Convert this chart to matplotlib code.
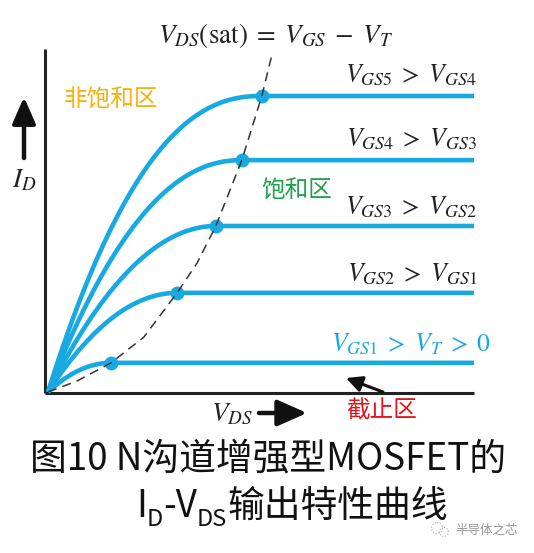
import numpy as np
import matplotlib
matplotlib.use("Agg")
import matplotlib.pyplot as plt
from matplotlib.patches import Circle

plt.rcParams['mathtext.fontset'] = 'stix'
plt.rcParams['font.family'] = ['Noto Sans CJK SC', 'DejaVu Sans']

# knee points of the five output curves (VDS(sat), ID(sat)), arbitrary units
vds_sat = [1.48, 3.03, 3.94, 4.55, 5.02]
id_sat = [0.85, 2.89, 4.84, 6.76, 8.63]
shape = [2.0, 2.0, 2.0, 2.15, 2.3]   # bend of the linear-region part
vds_max = 10.0
curve_labels = [r'$V_{GS1}\;>\;V_T\;>\;0$', r'$V_{GS2}\;>\;V_{GS1}$', r'$V_{GS3}\;>\;V_{GS2}$',
                r'$V_{GS4}\;>\;V_{GS3}$', r'$V_{GS5}\;>\;V_{GS4}$']

# VDS(sat) = VGS - VT boundary (dashed)
sat_x = [0.0, 0.68, 1.48, 2.25, 3.03, 3.50, 3.94, 4.55, 5.02, 5.26]
sat_y = [0.0, 0.32, 0.85, 1.60, 2.89, 3.76, 4.84, 6.76, 8.63, 9.85]

W, H = 534, 553
blue = '#19A9E2'

fig = plt.figure(figsize=(W / 100, H / 100), dpi=100)
fig.patch.set_facecolor('white')

ax = fig.add_axes([48 / W, (H - 392) / H, 426 / W, 343 / H])
ax.set_xlim(0, 10)
ax.set_ylim(0, 10)
ax.axis('off')

# axes lines
ax.plot([-0.07, -0.07], [-0.03, 10.0], color='#222222', lw=2.2, clip_on=False, solid_capstyle='butt')
ax.plot([-0.07, 10.0], [-0.03, -0.03], color='#222222', lw=2.2, clip_on=False, solid_capstyle='butt')

for vs, isat, p in zip(vds_sat, id_sat, shape):
    v = np.linspace(0, vs, 80)
    i = isat * (1 - (1 - v / vs) ** p)
    ax.plot(np.append(v, vds_max), np.append(i, isat), color=blue, lw=3.3,
            solid_capstyle='butt', clip_on=False, zorder=3)
    ax.plot([vs], [isat], 'o', color=blue, ms=9, zorder=4, clip_on=False)

ax.plot(sat_x, sat_y, color='#333333', lw=1.1, dashes=(6, 4), zorder=5, clip_on=False)

# overlay in pixel coordinates for annotations
ov = fig.add_axes([0, 0, 1, 1])
ov.set_xlim(0, W)
ov.set_ylim(H, 0)
ov.axis('off')
ov.patch.set_alpha(0)

ov.text(276, 36, r'$V_{DS}(\mathrm{sat})\;=\;V_{GS}\;-\;V_T$', fontsize=19.5, color='#222222',
        ha='center', va='center')

label_bottom = [357, 287, 220, 152, 88]
label_right = [491, 477, 477, 477, 477]
label_color = [blue, '#222222', '#222222', '#222222', '#222222']
for s, yb, xr, c in zip(curve_labels, label_bottom, label_right, label_color):
    ov.text(xr, yb, s, fontsize=18.5, color=c, ha='right', va='bottom')

ov.text(111, 100, '非饱和区', fontsize=17, color='#F5B10C', ha='center', va='center')
ov.text(297, 191, '饱和区', fontsize=17, color='#1DA24C', ha='center', va='center')
ov.text(382, 411, '截止区', fontsize=17, color='#E5121A', ha='center', va='center')

# I_D with up arrow
ov.text(24, 180, r'$I_D$', fontsize=19.5, color='#222222', ha='center', va='center')
ov.annotate('', xy=(24, 97), xytext=(24, 158),
            arrowprops=dict(arrowstyle='-|>,head_length=0.8,head_width=0.35', lw=3.2,
                            color='#111111', mutation_scale=20, shrinkA=0, shrinkB=0))
# V_DS with right arrow
ov.text(232, 414, r'$V_{DS}$', fontsize=19.5, color='#222222', ha='center', va='center')
ov.annotate('', xy=(307, 413), xytext=(259, 413),
            arrowprops=dict(arrowstyle='-|>,head_length=0.9,head_width=0.4', lw=3.2,
                            color='#111111', mutation_scale=20, shrinkA=0, shrinkB=0))
# cut-off arrow
ov.annotate('', xy=(346, 378), xytext=(383, 392),
            arrowprops=dict(arrowstyle='-|>,head_length=0.6,head_width=0.3', lw=2.2,
                            color='#111111', mutation_scale=16, shrinkA=0, shrinkB=0))

# caption
ov.text(268, 459, '图10 N沟道增强型MOSFET的', fontsize=26.5, color='#111111',
        ha='center', va='center', family=['Noto Sans CJK SC'])

r = fig.canvas.get_renderer()
x = 136
base = 517
pieces = [('I', 26.5, 0), ('D', 17, 9), ('-V', 26.5, 0), ('DS', 17, 9), ('输出特性曲线', 26.5, 0)]
for s, size, dy in pieces:
    t = ov.text(x, base + dy, s, fontsize=size, color='#111111', ha='left', va='baseline',
                family=['Noto Sans CJK SC'])
    bb = t.get_window_extent(r)
    x += bb.width

# watermark
ov.add_patch(Circle((437, 528), 5.5, fill=False, ec='#AAAAAA', lw=0.8, ls=':'))
ov.add_patch(Circle((444, 532), 4.5, fill=False, ec='#AAAAAA', lw=0.8, ls=':'))
ov.text(487, 530, '半导体之芯', fontsize=9, color='#999999', ha='center', va='center')

fig.savefig('out.png', dpi=100, facecolor='white')
